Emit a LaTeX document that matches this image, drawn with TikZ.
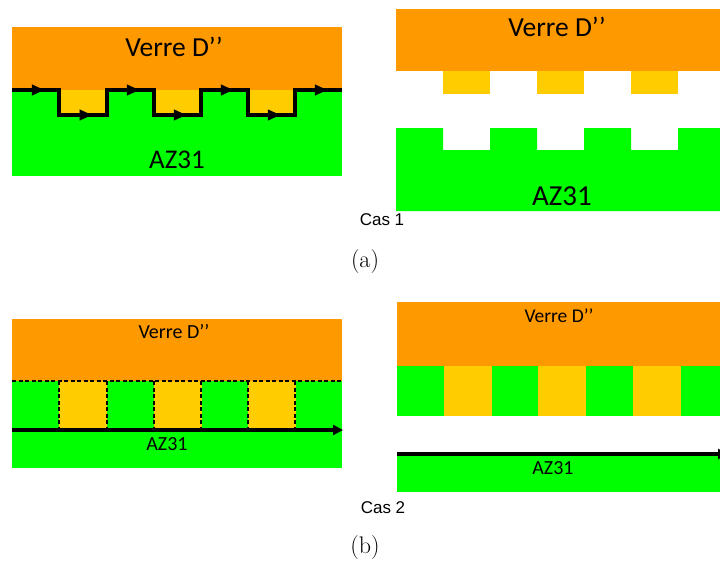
\documentclass[tikz,border=0pt]{standalone}
\usepackage{fontspec}
\setmainfont{Latin Modern Roman}
\newfontfamily\carlitofam{Carlito}
\newfontfamily\arialfam{Liberation Sans}
\usetikzlibrary{arrows.meta,decorations.markings}
\definecolor{verre}{HTML}{FF9900}
\definecolor{jaune}{HTML}{FFCC00}
\definecolor{vert}{HTML}{00FF00}
\tikzset{
  midarrow/.style={postaction={decorate},decoration={markings,mark=at position 0.68 with {\arrow{Triangle[length=12pt,width=11pt]}}}},
  pathline/.style={line width=3.4pt,line join=miter},
  dashbox/.style={draw=black,line width=1.1pt,dash pattern=on 4pt off 2.5pt},
  lbl/.style={inner sep=0pt,anchor=center},
}
\begin{document}
\begin{tikzpicture}[x=1pt,y=-1pt]
\useasboundingbox (0,0) rectangle (720,562);
% ---------- top-left ----------
\fill[verre] (12,27) rectangle (342,90);
\fill[vert] (12,90) rectangle (342,176);
\foreach \a in {59,154,248}{\fill[jaune] (\a,90) rectangle ({\a+48},115);}
\node[lbl,font=\carlitofam\fontsize{27.5}{27.5}\selectfont] (v1) at (174,47) {Verre D’’};
\node[lbl,font=\carlitofam\fontsize{27}{27}\selectfont] (z1) at (177,160) {AZ31};
\coordinate (p0) at (12,90);
\coordinate (p1) at (59,90);
\coordinate (p2) at (59,115);
\coordinate (p3) at (107,115);
\coordinate (p4) at (107,90);
\coordinate (p5) at (154,90);
\coordinate (p6) at (154,115);
\coordinate (p7) at (201,115);
\coordinate (p8) at (201,90);
\coordinate (p9) at (248,90);
\coordinate (p10) at (248,115);
\coordinate (p11) at (295,115);
\coordinate (p12) at (295,90);
\coordinate (p13) at (342,90);
\draw[pathline] (p0)--(p1)--(p2)--(p3)--(p4)--(p5)--(p6)--(p7)--(p8)--(p9)--(p10)--(p11)--(p12)--(p13);
\foreach \s/\e in {p0/p1,p2/p3,p4/p5,p6/p7,p8/p9,p10/p11,p12/p13}{\path[midarrow] (\s)--(\e);}
% ---------- top-right ----------
\fill[verre] (396,9) rectangle (720,71);
\foreach \a in {443,537,631}{\fill[jaune] (\a,71) rectangle ({\a+47},94);}
\fill[vert] (396,128) -- (443,128) -- (443,150) -- (490,150) -- (490,128) -- (537,128) -- (537,150) -- (584,150) -- (584,128) -- (631,128) -- (631,150) -- (678,150) -- (678,128) -- (720,128) -- (720,211) -- (396,211) -- cycle;
\node[lbl,font=\carlitofam\fontsize{27.5}{27.5}\selectfont] (v2) at (557,27) {Verre D’’};
\node[lbl,font=\carlitofam\fontsize{29}{29}\selectfont] (z2) at (562,196) {AZ31};
\node[lbl,font=\arialfam\fontsize{17}{17}\selectfont] (c1) at (382,220) {Cas 1};
\node[inner sep=0pt,font=\fontsize{24}{24}\selectfont] (la) at (365,262) {(a)};
% ---------- bottom-left ----------
\fill[verre] (12,319) rectangle (342,381);
\fill[vert] (12,381) rectangle (342,468);
\foreach \a in {59,154,248}{\fill[jaune] (\a,381) rectangle ({\a+48},429);}
\draw[dashbox] (12,381) -- (342,381);
\foreach \a in {59,107,154,201,248,295}{\draw[dashbox] (\a,381) -- (\a,429);}
\node[lbl,font=\carlitofam\fontsize{20}{20}\selectfont] (v3) at (174,332) {Verre D’’};
\node[lbl,font=\carlitofam\fontsize{20}{20}\selectfont] (z3) at (167,444) {AZ31};
\coordinate (q0) at (12,430);
\coordinate (q1) at (343,430);
\draw[line width=3.2pt,-{Triangle[length=10pt,width=10pt]}] (q0) -- (q1);
% ---------- bottom-right ----------
\fill[verre] (397,302) rectangle (720,366);
\fill[vert] (397,366) rectangle (720,416);
\foreach \a in {444,538,633}{\fill[jaune] (\a,366) rectangle ({\a+48},416);}
\fill[vert] (397,454) rectangle (720,492);
\node[lbl,font=\carlitofam\fontsize{19.5}{19.5}\selectfont] (v4) at (559,316) {Verre D’’};
\node[lbl,font=\carlitofam\fontsize{20}{20}\selectfont] (z4) at (553,468) {AZ31};
\coordinate (r0) at (397,454);
\coordinate (r1) at (728,454);
\draw[line width=3.2pt,-{Triangle[length=10pt,width=10pt]}] (r0) -- (r1);
\node[lbl,font=\arialfam\fontsize{17}{17}\selectfont] (c2) at (383,508) {Cas 2};
\node[inner sep=0pt,font=\fontsize{24}{24}\selectfont] (lb) at (365,548) {(b)};
\end{tikzpicture}
\end{document}
